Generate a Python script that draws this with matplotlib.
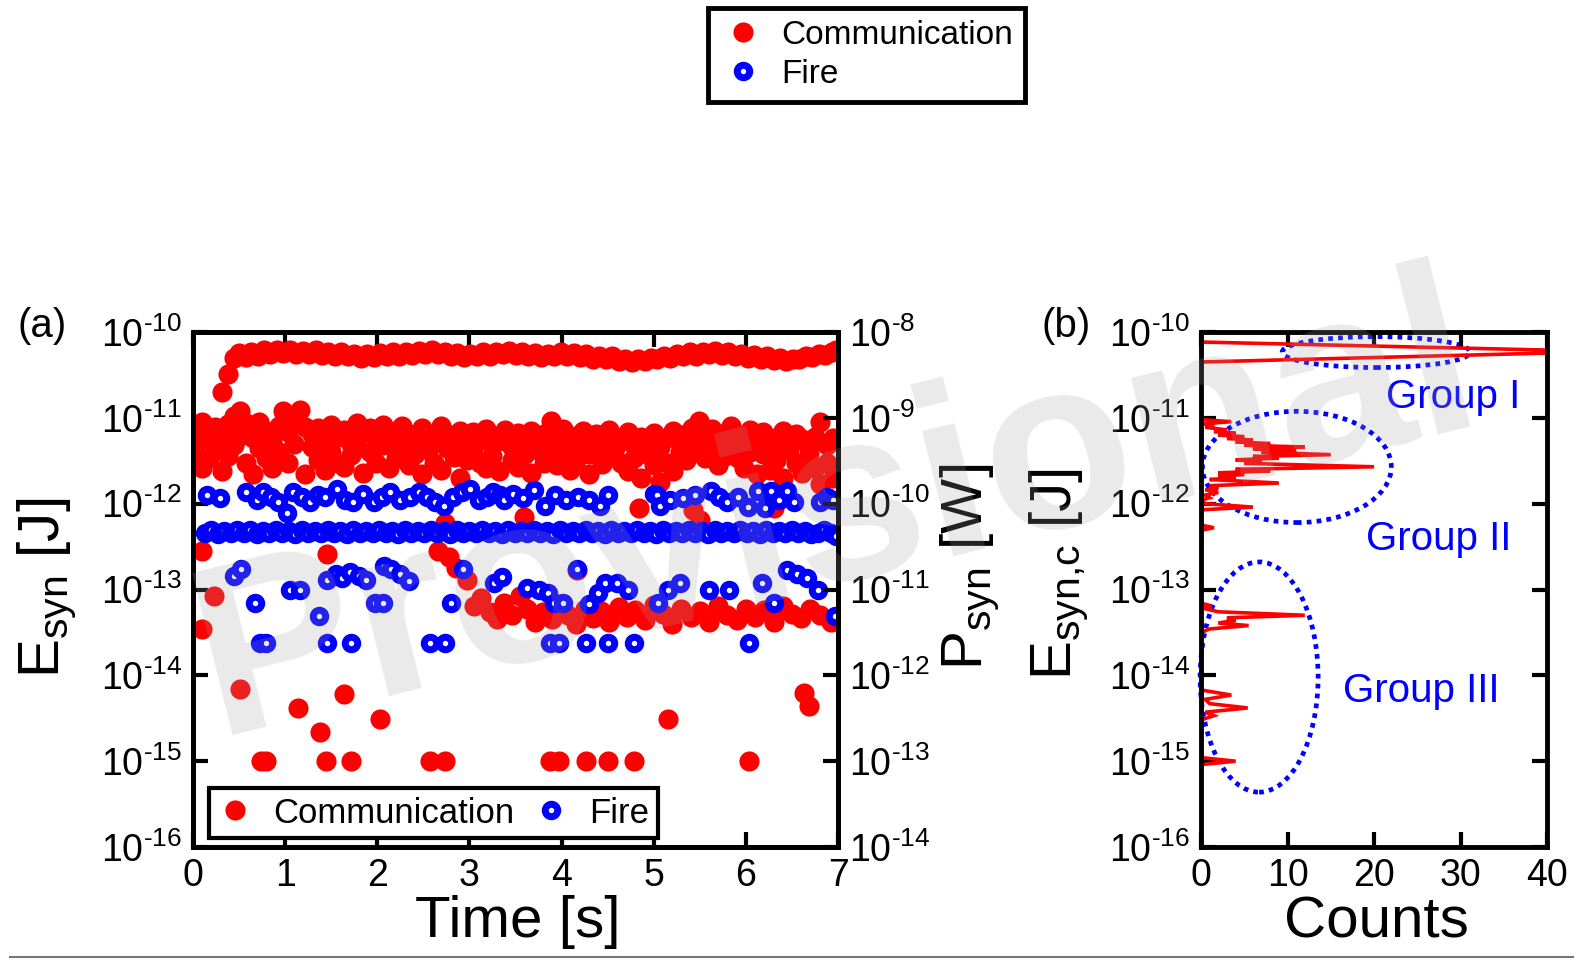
import numpy as np
import matplotlib
matplotlib.use("Agg")
import matplotlib.pyplot as plt
from matplotlib.patches import Ellipse
from matplotlib.lines import Line2D
from matplotlib.ticker import FixedLocator, FuncFormatter, NullLocator

plt.rcParams["font.family"] = ["Liberation Sans", "DejaVu Sans"]
plt.rcParams["mathtext.fontset"] = "custom"
plt.rcParams["mathtext.rm"] = "Liberation Sans"
plt.rcParams["mathtext.it"] = "Liberation Sans:italic"
plt.rcParams["mathtext.bf"] = "Liberation Sans:bold"
plt.rcParams["mathtext.default"] = "regular"

# ---------------- data ----------------
# Communication synapses, upper band (Group I)
comm_top_t = [0.32, 0.38, 0.44, 0.50, 0.57, 0.63, 0.70, 0.77, 0.84, 0.91, 0.98, 1.05, 1.12, 1.19,
              1.26, 1.33, 1.40, 1.47, 1.54, 1.61, 1.68, 1.75, 1.82, 1.89, 1.96, 2.03, 2.10, 2.17,
              2.24, 2.31, 2.38, 2.45, 2.52, 2.59, 2.66, 2.73, 2.80, 2.87, 2.94, 3.01, 3.08, 3.15,
              3.22, 3.29, 3.36, 3.43, 3.50, 3.57, 3.64, 3.71, 3.78, 3.85, 3.92, 3.99, 4.06, 4.13,
              4.20, 4.27, 4.34, 4.41, 4.48, 4.55, 4.62, 4.69, 4.76, 4.83, 4.90, 4.97, 5.04, 5.11,
              5.18, 5.25, 5.32, 5.39, 5.46, 5.53, 5.60, 5.67, 5.74, 5.81, 5.88, 5.95, 6.02, 6.09,
              6.16, 6.23, 6.30, 6.37, 6.44, 6.51, 6.58, 6.65, 6.72, 6.79, 6.86, 6.93, 6.98]
comm_top_E = [2.0e-11, 3.2e-11, 5.0e-11, 5.7e-11, 5.1e-11, 5.9e-11, 5.3e-11, 6.1e-11, 5.6e-11,
              6.2e-11, 5.7e-11, 6.1e-11, 5.5e-11, 6.0e-11, 5.6e-11, 6.1e-11, 5.4e-11, 5.9e-11,
              5.3e-11, 5.8e-11, 5.2e-11, 5.6e-11, 5.0e-11, 5.5e-11, 5.1e-11, 5.7e-11, 5.2e-11,
              5.8e-11, 5.3e-11, 5.9e-11, 5.4e-11, 6.0e-11, 5.5e-11, 6.1e-11, 5.6e-11, 5.9e-11,
              5.3e-11, 5.7e-11, 5.1e-11, 5.6e-11, 5.2e-11, 5.8e-11, 5.3e-11, 5.9e-11, 5.5e-11,
              6.0e-11, 5.4e-11, 5.8e-11, 5.2e-11, 5.7e-11, 5.1e-11, 5.6e-11, 5.2e-11, 5.8e-11,
              5.3e-11, 5.7e-11, 5.1e-11, 5.5e-11, 4.9e-11, 5.3e-11, 4.8e-11, 5.2e-11, 4.6e-11,
              4.9e-11, 4.5e-11, 4.8e-11, 4.6e-11, 5.0e-11, 4.8e-11, 5.3e-11, 5.0e-11, 5.6e-11,
              5.2e-11, 5.8e-11, 5.3e-11, 5.9e-11, 5.5e-11, 6.0e-11, 5.4e-11, 5.8e-11, 5.2e-11,
              5.6e-11, 5.0e-11, 5.4e-11, 4.9e-11, 5.2e-11, 4.7e-11, 5.0e-11, 4.6e-11, 4.9e-11,
              4.8e-11, 5.3e-11, 5.1e-11, 5.6e-11, 5.4e-11, 5.9e-11, 6.1e-11]

# Communication synapses, middle band (Group II)
comm_mid_t = [0.02, 0.02, 0.06, 0.10, 0.10, 0.17, 0.17, 0.24, 0.24, 0.31, 0.31, 0.38, 0.38,
              0.45, 0.45, 0.51, 0.51, 0.58, 0.58, 0.65, 0.65, 0.72, 0.72, 0.79, 0.79, 0.86, 0.86,
              0.93, 0.93, 0.98, 1.03, 1.03, 1.10, 1.10, 1.16, 1.22, 1.22, 1.29, 1.29, 1.36, 1.36,
              1.43, 1.43, 1.50, 1.50, 1.57, 1.57, 1.64, 1.64, 1.71, 1.71, 1.78, 1.78, 1.85, 1.85,
              1.92, 1.92, 1.99, 1.99, 2.06, 2.06, 2.13, 2.13, 2.20, 2.20, 2.27, 2.27, 2.34, 2.34,
              2.41, 2.41, 2.48, 2.48, 2.55, 2.55, 2.62, 2.62, 2.69, 2.69, 2.76, 2.76, 2.83, 2.83,
              2.90, 2.90, 2.97, 2.97, 3.04, 3.04, 3.11, 3.11, 3.18, 3.18, 3.25, 3.25, 3.32, 3.32,
              3.39, 3.39, 3.46, 3.46, 3.53, 3.53, 3.60, 3.60, 3.67, 3.67, 3.74, 3.74, 3.81, 3.81,
              3.88, 3.88, 3.95, 3.95, 4.02, 4.02, 4.09, 4.09, 4.16, 4.16, 4.23, 4.23, 4.30, 4.30,
              4.37, 4.37, 4.44, 4.44, 4.51, 4.51, 4.58, 4.58, 4.65, 4.65, 4.72, 4.72, 4.79, 4.79,
              4.86, 4.86, 4.93, 4.93, 5.00, 5.00, 5.07, 5.07, 5.14, 5.14, 5.21, 5.21, 5.28, 5.28,
              5.35, 5.35, 5.42, 5.42, 5.49, 5.49, 5.56, 5.56, 5.63, 5.63, 5.70, 5.70, 5.77, 5.77,
              5.84, 5.84, 5.91, 5.91, 5.98, 5.98, 6.05, 6.05, 6.12, 6.12, 6.19, 6.19, 6.26, 6.26,
              6.33, 6.33, 6.40, 6.40, 6.47, 6.47, 6.54, 6.54, 6.61, 6.61, 6.68, 6.68, 6.75, 6.75,
              6.81, 6.81, 6.88, 6.88, 6.95, 6.95]
comm_mid_E = [7.5e-12, 4.0e-12, 5.5e-12, 9.0e-12, 2.6e-12, 6.0e-12, 3.4e-12, 4.5e-12, 7.8e-12,
              2.4e-12, 5.8e-12, 8.5e-12, 3.6e-12, 1.05e-11, 4.8e-12, 1.2e-11, 6.2e-12, 8.8e-12,
              3.0e-12, 5.8e-12, 2.2e-12, 4.4e-12, 9.0e-12, 3.4e-12, 7.0e-12, 5.2e-12, 2.6e-12,
              8.0e-12, 4.0e-12, 1.2e-11, 6.8e-12, 3.0e-12, 9.5e-12, 5.0e-12, 1.25e-11, 7.8e-12,
              2.2e-12, 4.6e-12, 6.4e-12, 3.2e-12, 7.6e-12, 5.6e-12, 2.5e-12, 8.2e-12, 4.0e-12,
              6.0e-12, 3.0e-12, 7.2e-12, 2.7e-12, 5.0e-12, 3.7e-12, 8.6e-12, 4.5e-12, 6.6e-12,
              2.3e-12, 4.0e-12, 7.6e-12, 6.0e-12, 3.0e-12, 8.2e-12, 4.8e-12, 5.2e-12, 2.6e-12,
              7.0e-12, 3.4e-12, 4.5e-12, 8.0e-12, 6.5e-12, 2.8e-12, 5.0e-12, 3.8e-12, 7.6e-12,
              2.2e-12, 4.2e-12, 6.0e-12, 5.5e-12, 3.0e-12, 8.0e-12, 2.5e-12, 4.5e-12, 6.5e-12,
              3.5e-12, 5.5e-12, 7.0e-12, 2.0e-12, 5.0e-12, 3.2e-12, 6.8e-12, 4.2e-12, 3.0e-12,
              5.8e-12, 7.5e-12, 2.6e-12, 4.8e-12, 3.6e-12, 6.2e-12, 2.4e-12, 5.4e-12, 7.2e-12,
              3.2e-12, 4.6e-12, 6.6e-12, 2.7e-12, 5.0e-12, 3.8e-12, 7.0e-12, 2.3e-12, 4.2e-12,
              5.6e-12, 3.0e-12, 6.4e-12, 9.3e-12, 4.4e-12, 5.8e-12, 2.8e-12, 7.4e-12, 3.6e-12,
              4.6e-12, 2.5e-12, 6.2e-12, 3.2e-12, 5.0e-12, 7.0e-12, 3.8e-12, 2.2e-12, 6.4e-12,
              4.2e-12, 5.2e-12, 2.9e-12, 7.2e-12, 3.6e-12, 4.4e-12, 6.0e-12, 3.0e-12, 5.4e-12,
              6.8e-12, 2.4e-12, 4.8e-12, 3.4e-12, 6.0e-12, 2.0e-12, 3.8e-12, 5.2e-12, 2.8e-12,
              6.6e-12, 4.6e-12, 1.8e-12, 5.8e-12, 3.0e-12, 7.0e-12, 2.4e-12, 4.0e-12, 5.6e-12,
              3.2e-12, 6.4e-12, 7.6e-12, 4.6e-12, 9.3e-12, 5.2e-12, 6.8e-12, 3.4e-12, 4.4e-12,
              7.4e-12, 5.6e-12, 2.8e-12, 6.6e-12, 3.6e-12, 4.8e-12, 8.0e-12, 3.4e-12, 5.8e-12,
              6.2e-12, 2.6e-12, 4.0e-12, 7.2e-12, 5.2e-12, 2.2e-12, 6.8e-12, 3.8e-12, 4.6e-12,
              2.5e-12, 5.8e-12, 3.2e-12, 7.0e-12, 2.0e-12, 4.2e-12, 5.4e-12, 3.0e-12, 6.4e-12,
              5.6e-12, 2.3e-12, 4.4e-12, 3.8e-12, 6.0e-12, 2.6e-12, 9.0e-12, 1.7e-12, 4.8e-12,
              3.0e-12, 5.8e-12, 2.0e-12]

# Communication synapses, lower values (Group III and isolated events)
comm_low_t = [0.10, 1.45, 2.66, 2.74, 2.78, 2.85, 2.97, 3.59, 4.17, 4.84, 5.43, 5.50, 6.30,
              0.10, 0.23, 3.05, 3.13, 3.22, 3.30, 3.38, 3.46, 3.55, 3.63, 3.71, 3.80, 3.90,
              3.98, 4.07, 4.16, 4.25, 4.34, 4.43, 4.52, 4.62, 4.71, 4.80, 4.90, 5.00, 5.10,
              5.20, 5.30, 5.40, 5.50, 5.60, 5.70, 5.80, 5.90, 6.00, 6.10, 6.20, 6.30, 6.40,
              6.50, 6.60, 6.70, 6.80, 6.92,
              0.51, 0.74, 0.79, 1.14, 1.38, 1.44, 1.64, 1.72, 2.03, 2.57, 2.74, 3.87, 3.97,
              4.26, 4.50, 4.79, 5.16, 6.03, 6.63, 6.69]
comm_low_E = [2.8e-13, 2.6e-13, 2.8e-13, 6.0e-13, 2.4e-13, 1.8e-13, 1.3e-13, 7.0e-13, 1.7e-13,
              9.0e-13, 8.5e-13, 6.5e-13, 9.0e-13,
              3.5e-14, 8.5e-14, 6.5e-14, 8.0e-14, 5.5e-14, 4.5e-14, 7.0e-14, 5.0e-14, 8.5e-14,
              6.0e-14, 4.2e-14, 5.5e-14, 4.5e-14, 6.8e-14, 5.0e-14, 4.0e-14, 6.0e-14, 4.6e-14,
              5.6e-14, 4.2e-14, 6.2e-14, 4.8e-14, 5.8e-14, 4.4e-14, 6.6e-14, 5.2e-14, 4.0e-14,
              6.0e-14, 4.8e-14, 5.6e-14, 4.2e-14, 6.4e-14, 5.0e-14, 4.4e-14, 6.0e-14, 4.8e-14,
              5.8e-14, 4.2e-14, 6.4e-14, 5.2e-14, 4.6e-14, 6.0e-14, 5.0e-14, 4.2e-14,
              7.0e-15, 1.0e-15, 1.0e-15, 4.2e-15, 2.2e-15, 1.0e-15, 6.0e-15, 1.0e-15, 3.1e-15,
              1.0e-15, 1.0e-15, 1.0e-15, 1.0e-15, 1.0e-15, 1.0e-15, 1.0e-15, 3.1e-15, 1.0e-15,
              6.3e-15, 4.4e-15]

# Fire synapses, dense band
fire_band_t = [0.13, 0.20, 0.27, 0.34, 0.41, 0.48, 0.55, 0.62, 0.69, 0.76, 0.83, 0.90, 0.97,
               1.04, 1.11, 1.18, 1.25, 1.32, 1.39, 1.46, 1.53, 1.60, 1.67, 1.74, 1.81, 1.88,
               1.95, 2.02, 2.09, 2.16, 2.23, 2.30, 2.37, 2.44, 2.51, 2.58, 2.65, 2.72, 2.79,
               2.86, 2.93, 3.00, 3.07, 3.14, 3.21, 3.28, 3.35, 3.42, 3.49, 3.56, 3.63, 3.70,
               3.77, 3.84, 3.91, 3.98, 4.05, 4.12, 4.19, 4.26, 4.33, 4.40, 4.47, 4.54, 4.61,
               4.68, 4.75, 4.82, 4.89, 4.96, 5.03, 5.10, 5.17, 5.24, 5.31, 5.38, 5.45, 5.52,
               5.59, 5.66, 5.73, 5.80, 5.87, 5.94, 6.01, 6.08, 6.15, 6.22, 6.29, 6.36, 6.43,
               6.50, 6.57, 6.64, 6.71, 6.78, 6.85, 6.92, 6.98]
fire_band_E = [4.6e-13, 4.9e-13, 4.4e-13, 4.8e-13, 4.5e-13, 5.0e-13, 4.6e-13, 4.9e-13, 4.4e-13,
               4.8e-13, 4.6e-13, 5.0e-13, 4.5e-13, 4.8e-13, 4.4e-13, 4.9e-13, 4.6e-13, 4.8e-13,
               4.5e-13, 5.0e-13, 4.6e-13, 4.8e-13, 4.4e-13, 4.9e-13, 4.5e-13, 4.8e-13, 4.6e-13,
               5.0e-13, 4.5e-13, 4.8e-13, 4.4e-13, 4.9e-13, 4.6e-13, 4.8e-13, 4.5e-13, 4.9e-13,
               4.6e-13, 4.8e-13, 4.4e-13, 4.9e-13, 4.5e-13, 4.8e-13, 4.6e-13, 5.0e-13, 4.5e-13,
               4.8e-13, 4.4e-13, 4.9e-13, 4.6e-13, 4.8e-13, 4.5e-13, 4.9e-13, 4.6e-13, 4.8e-13,
               4.4e-13, 4.9e-13, 4.5e-13, 4.8e-13, 4.6e-13, 5.0e-13, 4.5e-13, 4.8e-13, 4.4e-13,
               4.9e-13, 4.6e-13, 4.8e-13, 4.5e-13, 4.9e-13, 4.6e-13, 4.8e-13, 4.4e-13, 4.9e-13,
               4.5e-13, 4.8e-13, 4.6e-13, 5.0e-13, 4.5e-13, 4.8e-13, 4.4e-13, 4.9e-13, 4.6e-13,
               4.8e-13, 4.5e-13, 4.9e-13, 4.6e-13, 4.8e-13, 4.4e-13, 4.9e-13, 4.5e-13, 4.8e-13,
               4.6e-13, 4.9e-13, 4.5e-13, 4.8e-13, 4.4e-13, 4.6e-13, 4.9e-13, 4.5e-13, 4.2e-13]

# Fire synapses, upper scattered band
fire_up_t = [0.15, 0.29, 0.57, 0.69, 0.76, 0.85, 0.92, 1.02, 1.09, 1.18, 1.27, 1.36, 1.43,
             1.56, 1.65, 1.74, 1.85, 1.96, 2.05, 2.14, 2.25, 2.36, 2.45, 2.54, 2.63, 2.72,
             2.82, 2.92, 3.01, 3.10, 3.19, 3.26, 3.33, 3.37, 3.47, 3.58, 3.70, 3.82, 3.93,
             4.05, 4.18, 4.30, 4.42, 4.50, 5.00, 5.04, 5.07, 5.18, 5.32, 5.45, 5.62, 5.71,
             5.80, 5.91, 6.02, 6.13, 6.21, 6.27, 6.36, 6.45, 6.52, 6.81, 6.88, 6.95]
fire_up_E = [1.26e-12, 1.15e-12, 1.38e-12, 1.10e-12, 1.38e-12, 1.20e-12, 1.05e-12, 7.8e-13,
             1.38e-12, 1.20e-12, 1.05e-12, 1.25e-12, 1.20e-12, 1.48e-12, 1.10e-12, 1.05e-12,
             1.30e-12, 1.05e-12, 1.20e-12, 1.38e-12, 1.10e-12, 1.20e-12, 1.35e-12, 1.20e-12,
             1.05e-12, 9.5e-13, 1.20e-12, 1.35e-12, 1.50e-12, 1.10e-12, 1.20e-12, 1.35e-12,
             1.25e-12, 1.10e-12, 1.30e-12, 1.15e-12, 1.45e-12, 9.5e-13, 1.25e-12, 1.10e-12,
             1.20e-12, 1.10e-12, 9.5e-13, 1.25e-12, 1.30e-12, 1.25e-12, 9.5e-13, 1.10e-12,
             1.15e-12, 1.25e-12, 1.40e-12, 1.20e-12, 1.05e-12, 1.20e-12, 9.2e-13, 1.40e-12,
             8.8e-13, 1.40e-12, 1.10e-12, 1.40e-12, 1.05e-12, 1.05e-12, 1.20e-12, 1.10e-12]

# Fire synapses, lower scattered values
fire_low_t = [0.45, 0.52, 0.67, 0.73, 0.79, 1.05, 1.16, 1.37, 1.45, 1.72, 1.45, 1.55, 1.62,
              1.70, 1.80, 1.88, 1.98, 2.06, 2.07, 2.15, 2.25, 2.34, 2.57, 2.74, 2.80, 2.93,
              3.27, 3.35, 3.63, 3.75, 3.85, 3.87, 3.97, 3.92, 4.02, 4.17, 4.26, 4.30, 4.40,
              4.47, 4.50, 4.60, 4.79, 4.72, 5.05, 5.15, 5.28, 5.60, 5.82, 6.03, 6.17, 6.30,
              6.45, 6.55, 6.66, 6.78, 6.97]
fire_low_E = [1.45e-13, 1.75e-13, 7.0e-14, 2.4e-14, 2.4e-14, 1.0e-13, 1.0e-13, 4.9e-14, 2.4e-14,
              2.4e-14, 1.3e-13, 1.5e-13, 1.35e-13, 1.6e-13, 1.45e-13, 1.3e-13, 7.0e-14, 7.0e-14,
              1.9e-13, 1.75e-13, 1.5e-13, 1.25e-13, 2.4e-14, 2.4e-14, 7.0e-14, 1.75e-13,
              1.2e-13, 1.4e-13, 1.05e-13, 1.0e-13, 9.0e-14, 2.4e-14, 2.4e-14, 7.0e-14, 7.0e-14,
              1.75e-13, 2.4e-14, 6.8e-14, 9.0e-14, 1.2e-13, 2.4e-14, 1.2e-13, 2.4e-14, 1.0e-13,
              7.0e-14, 1.0e-13, 1.2e-13, 1.0e-13, 1.0e-13, 2.4e-14, 1.2e-13, 7.0e-14, 1.7e-13,
              1.5e-13, 1.35e-13, 1.0e-13, 4.9e-14]

# Histogram of communication synapse energies (bin energy, counts)
hist_E = [7.64e-11, 5.93e-11, 4.47e-11,
          9.55e-12, 9.02e-12, 8.51e-12, 8.13e-12, 7.76e-12, 7.24e-12, 6.92e-12, 6.61e-12,
          6.31e-12, 6.03e-12, 5.75e-12, 5.50e-12, 5.25e-12, 5.01e-12, 4.79e-12, 4.57e-12,
          4.37e-12, 4.17e-12, 3.98e-12, 3.72e-12, 3.55e-12, 3.39e-12, 3.24e-12, 3.09e-12,
          2.95e-12, 2.69e-12, 2.51e-12, 2.40e-12, 2.29e-12, 2.19e-12, 2.09e-12, 2.00e-12,
          1.91e-12, 1.74e-12, 1.62e-12, 1.51e-12, 1.45e-12, 1.35e-12, 1.26e-12, 1.17e-12,
          1.10e-12, 1.00e-12, 9.12e-13, 8.51e-13, 7.94e-13, 5.62e-13, 5.25e-13, 4.90e-13,
          6.92e-14, 6.46e-14, 6.03e-14, 5.50e-14, 5.01e-14, 4.68e-14, 4.37e-14, 4.07e-14,
          3.80e-14, 3.47e-14, 3.16e-14,
          6.76e-15, 5.89e-15, 5.25e-15, 4.68e-15, 4.17e-15, 3.72e-15, 3.39e-15, 3.02e-15,
          1.10e-15, 1.00e-15, 9.12e-16]
hist_counts = [0, 47, 0,
               0, 3.5, 0.3, 1.5, 0.5, 3, 1.5, 4,
               2, 5, 3, 6, 4, 8, 5, 12,
               6, 11, 7, 15, 6, 9, 4, 7,
               5, 20, 4, 8, 2, 5, 2, 4,
               1, 9, 1, 2, 0.5, 2, 0.5, 1,
               0, 0.5, 6, 0.3, 0, 0, 1.5, 0,
               0, 1.2, 0.3, 2, 12, 3, 4, 2,
               5.5, 1, 0,
               0, 3.5, 0.5, 1, 5.4, 0.5, 1.5, 0,
               0, 4, 0]

series_labels = ["Communication", "Fire"]
time_ticks = [0, 1, 2, 3, 4, 5, 6, 7]
count_ticks = [0, 10, 20, 30, 40]
E_ticks = [1e-16, 1e-15, 1e-14, 1e-13, 1e-12, 1e-11, 1e-10]
P_ticks = [1e-14, 1e-13, 1e-12, 1e-11, 1e-10, 1e-9, 1e-8]

# ---------------- styling ----------------
RED = "#ff0000"
BLUE = "#0000ff"
TICK_FS = 27
LABEL_FS = 42
SPINE_W = 3.5

comm_style = dict(linestyle="none", marker="o", ms=14.5, mfc=RED, mec=RED, mew=0)
fire_style = dict(linestyle="none", marker="o", ms=9.0, mfc="white", mec=BLUE, mew=5.0)


def pow_label(v, pos):
    e = int(round(np.log10(v)))
    if e < 0:
        return r"$10^{\text{-}%d}$" % (-e)
    return r"$10^{%d}$" % e


def style_axes(ax):
    for s in ax.spines.values():
        s.set_linewidth(SPINE_W)
    ax.tick_params(which="major", direction="in", length=11, width=3,
                   labelsize=TICK_FS, pad=8)
    ax.tick_params(which="minor", length=0)


W, H = 1586, 960
fig = plt.figure(figsize=(W / 100, H / 100), dpi=100)


def px_axes(x0, y0, x1, y1):
    return fig.add_axes([x0 / W, 1 - y1 / H, (x1 - x0) / W, (y1 - y0) / H])


# ---------------- panel (a) ----------------
ax = px_axes(193, 332, 838, 847)
ax.set_yscale("log")
ax.plot(comm_top_t + comm_mid_t + comm_low_t, comm_top_E + comm_mid_E + comm_low_E, **comm_style)
ax.plot(fire_band_t + fire_up_t + fire_low_t, fire_band_E + fire_up_E + fire_low_E, **fire_style)
ax.set_xlim(0, 7)
ax.set_ylim(1e-16, 1e-10)
ax.xaxis.set_major_locator(FixedLocator(time_ticks))
ax.yaxis.set_major_locator(FixedLocator(E_ticks))
ax.yaxis.set_minor_locator(NullLocator())
ax.yaxis.set_major_formatter(FuncFormatter(pow_label))
style_axes(ax)
ax.tick_params(top=True, right=False)

axp = ax.twinx()
axp.set_yscale("log")
axp.set_ylim(1e-14, 1e-8)
axp.yaxis.set_major_locator(FixedLocator(P_ticks))
axp.yaxis.set_minor_locator(NullLocator())
axp.yaxis.set_major_formatter(FuncFormatter(pow_label))
style_axes(axp)

handles = [Line2D([], [], **comm_style), Line2D([], [], **fire_style)]
leg = ax.legend(handles, series_labels, loc="lower left", bbox_to_anchor=(0.025, 0.017),
                ncol=2, fontsize=25, frameon=True, fancybox=False, framealpha=1,
                edgecolor="black", handlelength=1.0, handletextpad=0.6, columnspacing=0.55,
                borderpad=0.25, borderaxespad=0)
leg.get_frame().set_linewidth(3)

fig.text(42 / W, 1 - 326 / H, "(a)", fontsize=29, ha="center", va="center")
fig.text(47 / W, 1 - 588 / H, r"$E_{syn}$ [J]", fontsize=LABEL_FS, rotation=90,
         ha="center", va="center")
fig.text(970 / W, 1 - 567 / H, r"$P_{syn}$ [W]", fontsize=LABEL_FS, rotation=90,
         ha="center", va="center")
fig.text(518 / W, 1 - 922 / H, "Time [s]", fontsize=LABEL_FS, ha="center", va="center")

# ---------------- panel (b) ----------------
bx = px_axes(1201, 332, 1547, 847)
bx.set_yscale("log")
bx.plot(hist_counts, hist_E, color=RED, lw=2.6, solid_joinstyle="miter")
bx.set_xlim(0, 40)
bx.set_ylim(1e-16, 1e-10)
bx.xaxis.set_major_locator(FixedLocator(count_ticks))
bx.yaxis.set_major_locator(FixedLocator(E_ticks))
bx.yaxis.set_minor_locator(NullLocator())
bx.yaxis.set_major_formatter(FuncFormatter(pow_label))
style_axes(bx)
bx.tick_params(top=True, right=True)

ell_style = dict(transform=bx.transAxes, fill=False, edgecolor=BLUE, lw=3.4,
                 linestyle=(0, (1, 1.1)), clip_on=False)
bx.add_patch(Ellipse((0.506, 0.961), 0.543, 0.060, **ell_style))
bx.add_patch(Ellipse((0.277, 0.738), 0.546, 0.216, **ell_style))
bx.add_patch(Ellipse((0.168, 0.330), 0.341, 0.447, **ell_style))
bx.text(0.728, 0.874, "Group I", transform=bx.transAxes, color=BLUE, fontsize=29,
        ha="center", va="center")
bx.text(0.688, 0.598, "Group II", transform=bx.transAxes, color=BLUE, fontsize=29,
        ha="center", va="center")
bx.text(0.636, 0.303, "Group III", transform=bx.transAxes, color=BLUE, fontsize=29,
        ha="center", va="center")

fig.text(1066 / W, 1 - 326 / H, "(b)", fontsize=29, ha="center", va="center")
fig.text(1059 / W, 1 - 574 / H, r"$E_{\text{syn,c}}$ [J]", fontsize=LABEL_FS, rotation=90,
         ha="center", va="center")
fig.text(1376 / W, 1 - 922 / H, "Counts", fontsize=LABEL_FS, ha="center", va="center")

# ---------------- figure legend ----------------
fleg = fig.legend(handles, series_labels, loc="upper left", bbox_to_anchor=(708 / W, 1 - 8 / H),
                  ncol=1, fontsize=24, frameon=True, fancybox=False, framealpha=1,
                  edgecolor="black", handlelength=1.4, handletextpad=0.45, labelspacing=0.25,
                  borderpad=0.35, borderaxespad=0)
fleg.get_frame().set_linewidth(3.5)

# watermark
fig.text(837 / W, 1 - 516 / H, "Provisional", fontsize=175, fontweight="bold", rotation=14,
         color=(0.62, 0.62, 0.62), alpha=0.22, ha="center", va="center", zorder=100)

fig.add_artist(Line2D([10 / W, 1573 / W], [1 - 957 / H, 1 - 957 / H],
                      transform=fig.transFigure, color="#777777", lw=1.5))

fig.savefig("out.png", dpi=100)
